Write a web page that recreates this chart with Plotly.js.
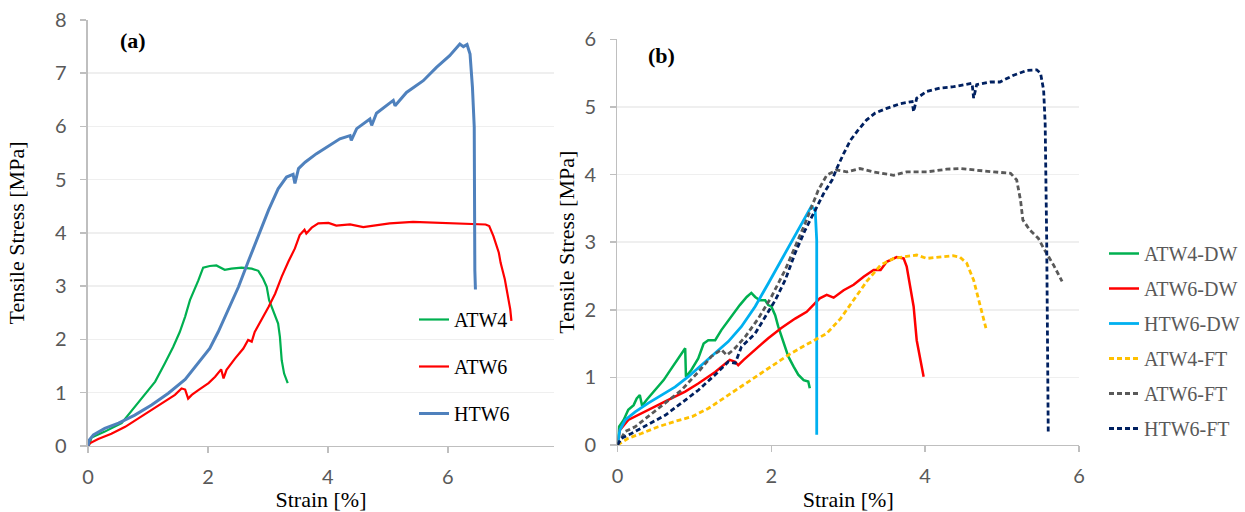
<!DOCTYPE html>
<html>
<head>
<meta charset="utf-8">
<script src="https://cdn.plot.ly/plotly-3.0.1.min.js"></script>
<style>
html,body{margin:0;padding:0;background:#fff;}
#chart{width:1245px;height:512px;}
</style>
</head>
<body>
<div id="chart"></div>
<script>
// ---------- Panel (a) data: strain [%], stress [MPa] ----------
var atw4_x = [0,0.02,0.06,0.28,0.56,0.67,0.78,0.95,1.12,1.28,1.42,1.53,1.62,1.70,1.76,1.84,1.92,2.03,2.14,2.28,2.39,2.56,2.73,2.84,2.92,2.98,3.02,3.09,3.17,3.20,3.23,3.27,3.33];
var atw4_y = [0,0.02,0.16,0.27,0.43,0.58,0.74,0.96,1.21,1.55,1.86,2.14,2.43,2.74,2.89,3.11,3.35,3.38,3.39,3.31,3.33,3.35,3.33,3.29,3.14,2.99,2.74,2.55,2.30,2.05,1.61,1.36,1.18];

var atw6_x = [0,0.03,0.17,0.39,0.62,0.84,1.06,1.28,1.45,1.56,1.62,1.67,1.73,1.84,2.01,2.12,2.22,2.26,2.31,2.45,2.59,2.67,2.73,2.78,2.89,3.01,3.12,3.23,3.34,3.45,3.53,3.61,3.64,3.73,3.84,4.01,4.14,4.37,4.59,4.81,5.03,5.42,5.81,6.26,6.51,6.63,6.69,6.76,6.85,6.88,6.95,7.01,7.04,7.06];
var atw6_y = [0,0.05,0.13,0.23,0.36,0.52,0.68,0.83,0.96,1.08,1.06,0.89,0.96,1.05,1.18,1.30,1.44,1.27,1.43,1.64,1.83,1.99,1.96,2.14,2.36,2.61,2.86,3.18,3.46,3.71,3.96,4.06,3.99,4.10,4.18,4.19,4.14,4.16,4.11,4.14,4.18,4.21,4.19,4.18,4.16,4.16,4.13,3.94,3.63,3.44,3.13,2.75,2.57,2.35];

var htw6_x = [0,0.02,0.09,0.28,0.51,0.78,1.06,1.34,1.62,1.84,2.03,2.17,2.34,2.51,2.67,2.84,3.01,3.17,3.31,3.42,3.45,3.51,3.62,3.81,3.89,4.03,4.20,4.37,4.39,4.48,4.70,4.73,4.81,5.09,5.12,5.31,5.59,5.81,6.03,6.20,6.26,6.32,6.37,6.41,6.44,6.45,6.46];
var htw6_y = [0,0.11,0.21,0.33,0.43,0.58,0.77,0.99,1.25,1.55,1.83,2.14,2.55,2.99,3.46,3.96,4.43,4.83,5.05,5.10,4.93,5.21,5.33,5.49,5.55,5.64,5.77,5.83,5.74,5.96,6.14,6.02,6.25,6.49,6.39,6.64,6.86,7.11,7.33,7.55,7.50,7.54,7.36,6.74,5.99,3.30,2.94];

// ---------- Panel (b) data ----------
var atw4dw_x = [0,0.02,0.08,0.14,0.21,0.25,0.29,0.32,0.38,0.49,0.60,0.70,0.79,0.88,0.89,0.96,1.05,1.12,1.18,1.27,1.35,1.40,1.51,1.59,1.68,1.74,1.79,1.85,1.92,1.96,2.00,2.05,2.09,2.16,2.22,2.29,2.35,2.42,2.48,2.50];
var atw4dw_y = [0,0.27,0.37,0.52,0.59,0.69,0.74,0.58,0.67,0.81,0.96,1.13,1.28,1.43,1.01,1.11,1.28,1.50,1.55,1.55,1.70,1.78,1.95,2.07,2.19,2.25,2.19,2.14,2.14,2.07,2.05,1.92,1.75,1.50,1.31,1.16,1.04,0.96,0.94,0.84];

var atw6dw_x = [0,0.03,0.14,0.31,0.49,0.70,0.88,1.05,1.27,1.46,1.53,1.57,1.64,1.79,1.96,2.13,2.31,2.46,2.57,2.63,2.72,2.81,2.94,3.07,3.20,3.33,3.42,3.50,3.63,3.72,3.76,3.81,3.85,3.89,3.94,3.98];
var atw6dw_y = [0,0.22,0.37,0.47,0.57,0.69,0.79,0.91,1.08,1.26,1.23,1.18,1.26,1.41,1.58,1.73,1.87,1.97,2.10,2.17,2.22,2.18,2.29,2.37,2.49,2.59,2.59,2.71,2.78,2.76,2.64,2.34,2.05,1.55,1.26,1.01];

var htw6dw_x = [0,0.03,0.10,0.23,0.40,0.57,0.75,0.92,1.09,1.27,1.44,1.61,1.79,1.96,2.13,2.31,2.44,2.52,2.57,2.59,2.59];
var htw6dw_y = [0,0.22,0.37,0.49,0.62,0.74,0.86,1.01,1.18,1.36,1.53,1.75,2.05,2.39,2.74,3.11,3.38,3.53,3.48,3.03,0.15];

var atw4ft_x = [0,0.14,0.31,0.53,0.75,0.97,1.18,1.35,1.53,1.70,1.88,2.05,2.22,2.40,2.57,2.72,2.90,3.07,3.24,3.42,3.59,3.76,3.89,4.02,4.19,4.36,4.45,4.54,4.63,4.71,4.75,4.79];
var atw4ft_y = [0,0.10,0.17,0.27,0.35,0.42,0.54,0.67,0.81,0.94,1.08,1.21,1.33,1.45,1.55,1.65,1.87,2.14,2.42,2.66,2.76,2.79,2.81,2.76,2.78,2.80,2.78,2.69,2.44,2.10,1.90,1.73];

var atw6ft_x = [0,0.10,0.23,0.40,0.62,0.83,1.05,1.22,1.35,1.42,1.51,1.66,1.83,2.00,2.18,2.31,2.44,2.61,2.72,2.85,2.98,3.15,3.33,3.59,3.76,4.02,4.28,4.45,4.67,4.89,5.11,5.19,5.24,5.27,5.36,5.47,5.54,5.67,5.78];
var atw6ft_y = [0,0.20,0.27,0.42,0.62,0.81,1.08,1.31,1.41,1.33,1.41,1.60,1.87,2.19,2.59,2.93,3.28,3.77,3.99,4.07,4.04,4.09,4.04,3.99,4.04,4.04,4.08,4.09,4.06,4.04,4.02,3.92,3.62,3.33,3.18,3.06,2.91,2.66,2.42];

var htw6ft_x = [0,0.05,0.18,0.40,0.62,0.83,1.05,1.27,1.44,1.53,1.61,1.79,1.92,2.05,2.18,2.31,2.44,2.55,2.68,2.79,2.85,2.94,3.03,3.13,3.24,3.35,3.50,3.68,3.83,3.85,3.89,4.02,4.19,4.37,4.54,4.61,4.63,4.67,4.85,4.97,5.15,5.32,5.45,5.50,5.54,5.56,5.58,5.60];
var htw6ft_y = [0,0.10,0.17,0.30,0.44,0.62,0.81,1.04,1.23,1.21,1.45,1.65,1.90,2.14,2.44,2.84,3.18,3.43,3.72,3.92,4.09,4.31,4.51,4.66,4.81,4.91,4.98,5.05,5.08,4.93,5.13,5.23,5.28,5.30,5.33,5.35,5.13,5.33,5.37,5.37,5.47,5.54,5.55,5.50,5.25,4.76,3.03,0.20];

var namesA = ['ATW4','ATW6','HTW6'];
var namesB = ['ATW4-DW','ATW6-DW','HTW6-DW','ATW4-FT','ATW6-FT','HTW6-FT'];

var serif = 'Liberation Serif, Times New Roman, serif';
var sans = 'Lato, Open Sans, sans-serif';
var dashP = '5px,3px';

function tr(x, y, name, color, width, dash, xa, ya, leg, grp) {
  return {
    x: x, y: y, name: name, type: 'scatter', mode: 'lines',
    line: {color: color, width: width, dash: dash || 'solid'},
    xaxis: xa, yaxis: ya, legend: leg, legendgroup: grp, hoverinfo: 'skip'
  };
}

var data = [
  tr(atw4_x, atw4_y, namesA[0], '#00B050', 2.2, null, 'x', 'y', 'legend', 'a1'),
  tr(atw6_x, atw6_y, namesA[1], '#FF0000', 2.2, null, 'x', 'y', 'legend', 'a2'),
  tr(htw6_x, htw6_y, namesA[2], '#4F81BD', 3, null, 'x', 'y', 'legend', 'a3'),
  tr(atw4dw_x, atw4dw_y, namesB[0], '#00B050', 2.5, null, 'x2', 'y2', 'legend2', 'b1'),
  tr(atw6dw_x, atw6dw_y, namesB[1], '#FF0000', 2.5, null, 'x2', 'y2', 'legend2', 'b2'),
  tr(htw6dw_x, htw6dw_y, namesB[2], '#00B0F0', 2.8, null, 'x2', 'y2', 'legend2', 'b3'),
  tr(atw4ft_x, atw4ft_y, namesB[3], '#FFC000', 2.8, dashP, 'x2', 'y2', 'legend2', 'b4'),
  tr(atw6ft_x, atw6ft_y, namesB[4], '#595959', 2.8, dashP, 'x2', 'y2', 'legend2', 'b5'),
  tr(htw6ft_x, htw6ft_y, namesB[5], '#002060', 2.8, dashP, 'x2', 'y2', 'legend2', 'b6')
];

function xax(domain, range, anchor) {
  return {
    domain: domain, range: range, anchor: anchor, dtick: 2, tick0: 0,
    showgrid: false, zeroline: false, showline: true, linecolor: '#BFBFBF', linewidth: 1.5,
    ticks: 'outside', ticklen: 6, tickcolor: '#BFBFBF', tickwidth: 1.5,
    tickfont: {family: sans, size: 20, color: '#595959'}, ticklabelstandoff: 7,
    automargin: false,
    title: {text: 'Strain [%]', font: {family: serif, size: 22, color: '#000'}, standoff: 14}
  };
}
function yax(domain, range, anchor, standoff) {
  return {
    domain: domain, range: range, anchor: anchor, dtick: 1, tick0: 0,
    showgrid: true, gridcolor: '#EFEFEF', gridwidth: 1.5, zeroline: false,
    showline: true, linecolor: '#BFBFBF', linewidth: 1.5,
    ticks: 'outside', ticklen: 6, tickcolor: '#BFBFBF', tickwidth: 1.5,
    tickfont: {family: sans, size: 20, color: '#595959'}, ticklabelstandoff: 10,
    automargin: false,
    title: {text: 'Tensile Stress [MPa]', font: {family: serif, size: 22, color: '#000'}, standoff: standoff}
  };
}

var layout = {
  width: 1245, height: 512,
  margin: {l: 0, r: 0, t: 0, b: 0, autoexpand: false},
  font: {family: serif},
  paper_bgcolor: '#fff', plot_bgcolor: '#fff',
  showlegend: true,
  xaxis: xax([0.07068, 0.44498], [0, 7.77], 'y'),
  yaxis: yax([0.12891, 0.96094], [0, 8], 'x', 24),
  xaxis2: xax([0.49598, 0.86667], [0, 6], 'y2'),
  yaxis2: yax([0.13086, 0.92305], [0, 6], 'x2', 3),
  legend: {
    x: 414/1245, y: 1 - 300/512, xanchor: 'left', yanchor: 'top',
    bgcolor: 'rgba(0,0,0,0)', tracegroupgap: 18, itemwidth: 30,
    font: {family: serif, size: 20, color: '#000'}
  },
  legend2: {
    x: 1, y: 1 - 234/512, xanchor: 'right', yanchor: 'top',
    bgcolor: 'rgba(0,0,0,0)', tracegroupgap: 6, itemwidth: 30,
    font: {family: serif, size: 20, color: '#595959'}
  },
  annotations: [
    {text: '<b>(a)</b>', xref: 'paper', yref: 'paper', x: 133/1245, y: 1 - 40/512,
     xanchor: 'center', yanchor: 'middle', showarrow: false,
     font: {family: serif, size: 22, color: '#000'}},
    {text: '<b>(b)</b>', xref: 'paper', yref: 'paper', x: 661/1245, y: 1 - 55/512,
     xanchor: 'center', yanchor: 'middle', showarrow: false,
     font: {family: serif, size: 22, color: '#000'}}
  ]
};

Plotly.newPlot('chart', data, layout, {displayModeBar: false, staticPlot: true});
</script>
</body>
</html>
